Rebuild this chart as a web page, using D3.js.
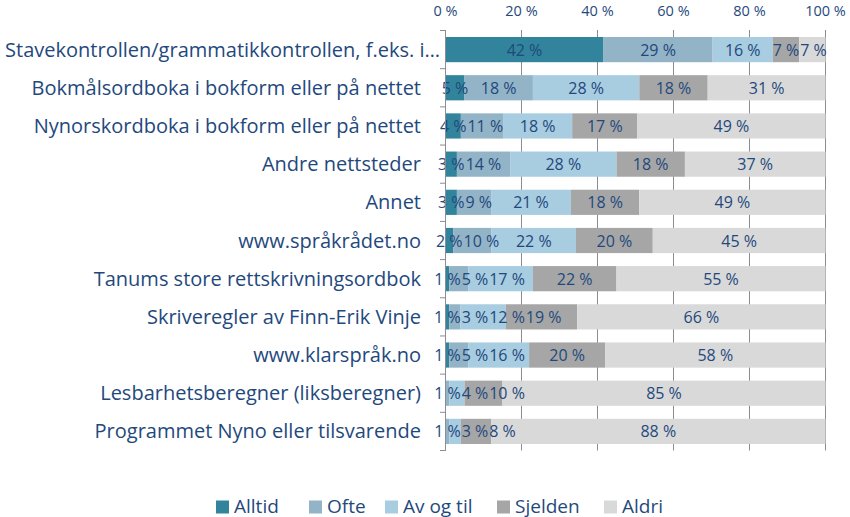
<!DOCTYPE html>
<html><head><meta charset="utf-8">
<script src="https://cdn.jsdelivr.net/npm/d3@7"></script>
<style>body{margin:0;background:#fff}svg{display:block}</style>
</head><body>
<svg id="c" width="850" height="517"></svg>
<script>
const categories = [
  "Stavekontrollen/grammatikkontrollen, f.eks. i…",
  "Bokmålsordboka i bokform eller på nettet",
  "Nynorskordboka i bokform eller på nettet",
  "Andre nettsteder",
  "Annet",
  "www.språkrådet.no",
  "Tanums store rettskrivningsordbok",
  "Skriveregler av Finn-Erik Vinje",
  "www.klarspråk.no",
  "Lesbarhetsberegner (liksberegner)",
  "Programmet Nyno eller tilsvarende"
];
const seriesNames = ["Alltid","Ofte","Av og til","Sjelden","Aldri"];
const alltid  = [42, 5, 4, 3, 3, 2, 1, 1, 1, 0, 0];
const ofte    = [29,18,11,14, 9,10, 5, 3, 5, 1, 1];
const avogtil = [16,28,18,28,21,22,17,12,16, 4, 3];
const sjelden = [ 7,18,17,18,18,20,22,19,20,10, 8];
const aldri   = [ 7,31,49,37,49,45,55,66,58,85,88];
const tickValues = [0,20,40,60,80,100];
const colors = ["#31849B","#93B3C6","#A8CCE0","#A6A6A6","#D9D9D9"];

const seriesVals = [alltid, ofte, avogtil, sjelden, aldri];
const rows = categories.map((c,i)=>{
  const o = {cat:c};
  seriesNames.forEach((s,j)=>o[s]=seriesVals[j][i]);
  return o;
});

const svg = d3.select("#c");
const textColor = "#1F497D";
const font = "'Open Sans', sans-serif";
const x = d3.scaleLinear().domain([0,100]).range([445.5,825.5]);
const y = d3.scaleBand().domain(categories).range([30.5,450.5]).paddingInner(0.34).paddingOuter(0.17);

// gridlines
svg.append("g").selectAll("line").data(tickValues).join("line")
  .attr("x1",d=>x(d)).attr("x2",d=>x(d)).attr("y1",30).attr("y2",450.5)
  .attr("stroke","#8C8C96").attr("stroke-width",1);

// top tick labels
svg.append("g").selectAll("text").data(tickValues).join("text")
  .attr("x",d=>x(d)).attr("y",15.5).attr("text-anchor","middle")
  .attr("font-family",font).attr("font-size",14.5).attr("fill",textColor)
  .text(d=>d+" %");

// stacked bars (normalised to 100 %)
const stack = d3.stack().keys(seriesNames).offset(d3.stackOffsetExpand)(rows);
const g = svg.append("g");
stack.forEach((layer,j)=>{
  g.append("g").selectAll("rect").data(layer).join("rect")
    .attr("x",d=>x(d[0]*100)).attr("width",d=>x(d[1]*100)-x(d[0]*100))
    .attr("y",d=>y(d.data.cat)).attr("height",y.bandwidth())
    .attr("fill",colors[j]);
});

// data labels, centred in segments, pushed right when they would collide
const meas = svg.append("text").attr("font-family",font).attr("font-size",16).attr("visibility","hidden");
const measure = t => { meas.text(t); return meas.node().getComputedTextLength(); };
const labelData = [];
rows.forEach((r,i)=>{
  let prevRight = -Infinity;
  stack.forEach((layer,j)=>{
    const d = layer[i];
    const v = r[seriesNames[j]];
    if (!(v > 0)) return;
    const txt = v + " %";
    const w = measure(txt);
    const cx = (x(d[0]*100)+x(d[1]*100))/2;
    const left = Math.max(cx - w/2, prevRight + 1);
    prevRight = left + w;
    labelData.push({cat:r.cat, txt, cx:left + w/2});
  });
});
meas.remove();
g.append("g").selectAll("text").data(labelData).join("text")
  .attr("x",d=>d.cx)
  .attr("y",d=>y(d.cat)+y.bandwidth()/2+6)
  .attr("text-anchor","middle")
  .attr("font-family",font).attr("font-size",16).attr("fill",textColor)
  .text(d=>d.txt);

// left axis line and ticks
const step = 420/categories.length;
const boundaries = d3.range(categories.length+1).map(i=>30.5+i*step);
svg.append("line").attr("x1",445.5).attr("x2",445.5).attr("y1",30).attr("y2",450.5)
  .attr("stroke","#8C8C96");
svg.append("g").selectAll("line").data(boundaries).join("line")
  .attr("x1",440).attr("x2",445.5).attr("y1",d=>d).attr("y2",d=>d)
  .attr("stroke","#8C8C96");

// category labels
svg.append("g").selectAll("text").data(categories).join("text")
  .attr("x",(d,i)=>i===0?440:421).attr("y",d=>y(d)+y.bandwidth()/2+7)
  .attr("text-anchor","end")
  .attr("font-family",font).attr("font-size",20).attr("fill",textColor)
  .text(d=>d);

// legend
const legX = [216,309,385,497,604];
const leg = svg.append("g").selectAll("g").data(seriesNames).join("g")
  .attr("transform",(d,i)=>`translate(${legX[i]},0)`);
leg.append("rect").attr("x",0).attr("y",500.5).attr("width",13).attr("height",13)
  .attr("fill",(d,i)=>colors[i]);
leg.append("text").attr("x",18).attr("y",512.5)
  .attr("font-family",font).attr("font-size",19).attr("fill",textColor)
  .text(d=>d);
</script>
</body></html>
